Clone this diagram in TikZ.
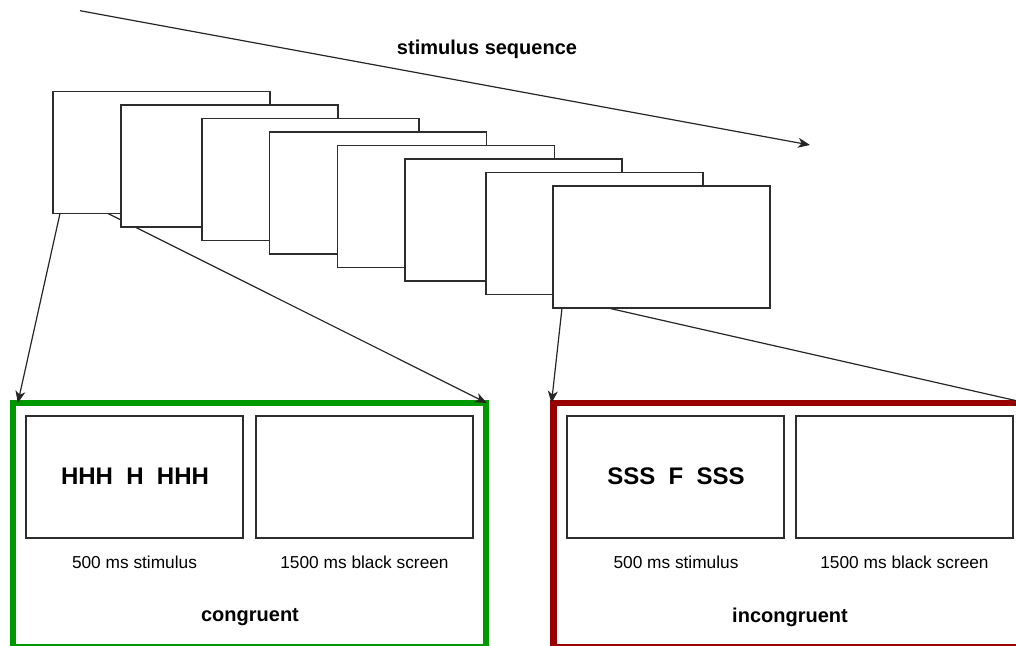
\documentclass[tikz,border=0pt]{standalone}
\usepackage{fontspec}
\setmainfont{Liberation Sans}
\usetikzlibrary{arrows.meta}

\pgfdeclarelayer{frames}
\pgfdeclarelayer{links}
\pgfsetlayers{frames,links,main}

\definecolor{congruentgreen}{RGB}{0,153,0}
\definecolor{incongruentred}{RGB}{153,0,0}
\definecolor{edgegray}{RGB}{45,45,45}

\begin{document}
\begin{tikzpicture}[x=1pt,y=-1pt,
  screen/.style={draw=edgegray, line width=1.4pt, fill=white,
    minimum width=217pt, minimum height=122pt, inner sep=0pt,
    outer sep=0pt, anchor=north west},
  condframe/.style={line width=6.5pt, minimum width=473pt,
    minimum height=243.8pt, inner sep=0pt, outer sep=0pt,
    anchor=north west},
  link/.style={draw=black!85, line width=1.2pt,
    -{Stealth[length=12pt,width=10pt,inset=3.5pt]}},
  caption/.style={font=\fontsize{17.3}{20}\selectfont, inner sep=0pt},
  heading/.style={font=\fontsize{20}{24}\selectfont\bfseries, inner sep=0pt},
  letters/.style={font=\fontsize{24}{28}\selectfont\bfseries, inner sep=0pt}]

\useasboundingbox (0,0) rectangle (1016,645);
\clip (0,0) rectangle (1016,645);

% condition frames
\begin{pgfonlayer}{frames}
  \node[condframe, draw=congruentgreen] (cong) at (12.8,403) {};
  \node[condframe, draw=incongruentred] (incong) at (553.5,403) {};
\end{pgfonlayer}

% stimulus sequence of screens, front one last
\node[screen] (s1) at (53,91.5) {};
\node[screen] (s2) at (121,105) {};
\node[screen] (s3) at (202,118.5) {};
\node[screen] (s4) at (269.5,132) {};
\node[screen] (s5) at (337.5,145.5) {};
\node[screen] (s6) at (405,159) {};
\node[screen] (s7) at (486,172.5) {};
\node[screen] (s8) at (553,186) {};

% sequence direction
\coordinate (seqstart) at (80,10.7);
\coordinate (seqend) at (810,145);
\draw[link] (seqstart) -- (seqend);
\node[heading] (seqlabel) at (487,49) {stimulus sequence};

% congruent trial
\node[screen] (cstim) at (26,416) {};
\node[screen] (cblank) at (256,416) {};
\node[letters] (cletters) at (135,476) {HHH\ \ H\ \ HHH};
\node[caption] (cstimlabel) at (134.5,562) {500 ms stimulus};
\node[caption] (cblanklabel) at (364.5,562) {1500 ms black screen};
\node[heading] (congname) at (250,617) {congruent};

% incongruent trial
\node[screen] (istim) at (567,416) {};
\node[screen] (iblank) at (796,416) {};
\node[letters] (iletters) at (676,476) {SSS\ \ F\ \ SSS};
\node[caption] (istimlabel) at (676,562) {500 ms stimulus};
\node[caption] (iblanklabel) at (904.5,562) {1500 ms black screen};
\node[heading] (incongname) at (790,617) {incongruent};

% zoom-in connectors
\begin{pgfonlayer}{links}
  \draw[link] ([xshift=7pt]s1.south west) -- ([xshift=5pt]cong.north west);
  \draw[link] ([xshift=55pt]s1.south west) -- ([xshift=1pt]cong.north east);
  \draw[link] ([xshift=9pt]s8.south west) -- ([xshift=-2pt]incong.north west);
  \draw[link] ([xshift=55pt]s8.south west) -- (incong.north east);
\end{pgfonlayer}

\end{tikzpicture}
\end{document}
